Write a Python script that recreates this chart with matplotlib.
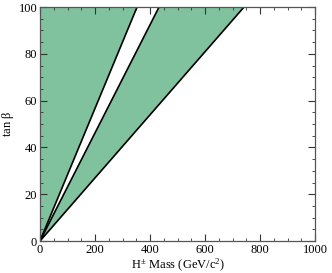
import matplotlib
matplotlib.use("Agg")
import matplotlib.pyplot as plt
from matplotlib.ticker import MultipleLocator

# Boundary lines from origin, reaching tan(beta)=100 at these masses
region1_left_top = 0      # y-axis
region1_right_top = 353
region2_left_top = 433
region2_right_top = 742
ymax_val = 100

xticks = [0, 200, 400, 600, 800, 1000]
yticks = [0, 20, 40, 60, 80, 100]

plt.rcParams['font.family'] = ['Liberation Serif', 'DejaVu Serif']
plt.rcParams['mathtext.fontset'] = 'custom'
plt.rcParams['mathtext.rm'] = 'Liberation Serif'
plt.rcParams['mathtext.it'] = 'Liberation Serif:italic'
plt.rcParams['mathtext.sf'] = 'Liberation Serif'

fig = plt.figure(figsize=(3.32, 2.73), dpi=100)
ax = fig.add_axes([40/332, 1-241/273, 275/332, 234/273])

green = '#80c29e'
ax.fill([0, region1_left_top, region1_right_top], [0, ymax_val, ymax_val], color=green, lw=0)
ax.fill([0, region2_left_top, region2_right_top], [0, ymax_val, ymax_val], color=green, lw=0)
for xt in [region1_right_top, region2_left_top, region2_right_top]:
    ax.plot([0, xt], [0, ymax_val], color='black', lw=1.2, solid_capstyle='butt')

ax.set_xlim(0, 1000)
ax.set_ylim(0, 100)
ax.set_xticks(xticks)
ax.set_yticks(yticks)
ax.xaxis.set_minor_locator(MultipleLocator(50))
ax.yaxis.set_minor_locator(MultipleLocator(5))
ax.tick_params(which='both', direction='in', top=True, right=True, labelsize=9, colors='#333333', labelcolor='black', pad=2)
ax.tick_params(which='major', length=5, width=0.8)
ax.tick_params(which='minor', length=2.5, width=0.6)
for s in ax.spines.values():
    s.set_color('#555555')
    s.set_linewidth(0.9)
ax.set_xlabel('H$^{\\pm}$ Mass (GeV/c$^{2}$)', fontsize=9, labelpad=1)
ax.set_ylabel('tan $\\mathrm{\\beta}$', fontsize=9)
ax.yaxis.set_label_coords(-0.087, 0.5)
fig.savefig('out.png', dpi=100)
